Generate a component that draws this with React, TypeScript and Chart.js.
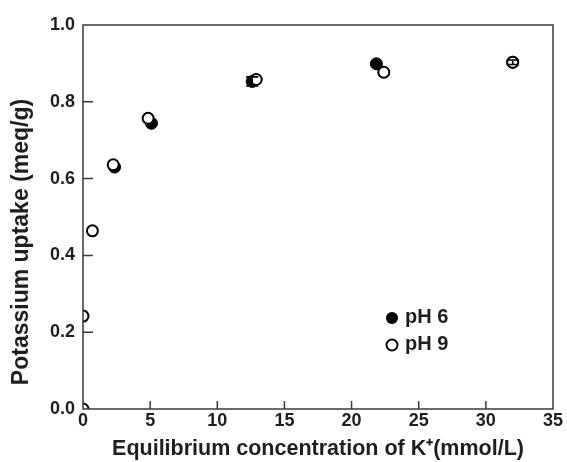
import React, { useEffect, useRef } from "react";
import { Chart, registerables } from "chart.js";

Chart.register(...registerables);

// Axis ticks
const xTickValues = [0, 5, 10, 15, 20, 25, 30, 35];
const yTickValues = [0, 0.2, 0.4, 0.6, 0.8, 1.0];

// Series: pH 6 (filled markers)
const ph6X = [2.35, 5.1, 12.6, 21.85, 32.0];
const ph6Y = [0.63, 0.744, 0.853, 0.899, 0.903];
const ph6Err = [0, 0, 0.012, 0, 0.006];

// Series: pH 9 (open markers)
const ph9X = [0, 0, 0.7, 2.25, 4.85, 12.9, 22.4, 32.0];
const ph9Y = [0, 0.242, 0.464, 0.636, 0.757, 0.858, 0.877, 0.903];

const seriesLabels = ["pH 6", "pH 9"];
const xTitle = "Equilibrium concentration of K\u207A(mmol/L)";
const yTitle = "Potassium uptake (meq/g)";

const FONT = "'Liberation Sans', Arial, sans-serif";
const TEXT = "#1e1e1e";
const AXIS = "#3a3a3a";

// Keep markers strictly inside the plotting frame
const clipToArea = {
  id: "clipToArea",
  beforeDatasetDraw(chart: any) {
    const { ctx, chartArea: a } = chart;
    ctx.save();
    ctx.beginPath();
    ctx.rect(a.left, a.top, a.right - a.left, a.bottom - a.top);
    ctx.clip();
  },
  afterDatasetDraw(chart: any) {
    chart.ctx.restore();
  },
};

const frameAndTicks = {
  id: "frameAndTicks",
  afterDraw(chart: any) {
    const { ctx, chartArea: a, scales } = chart;
    ctx.save();
    ctx.strokeStyle = AXIS;
    ctx.lineWidth = 1.5;
    ctx.strokeRect(a.left, a.top, a.right - a.left, a.bottom - a.top);
    ctx.beginPath();
    xTickValues.forEach((v) => {
      if (v <= 0 || v >= 35) return;
      const px = scales.x.getPixelForValue(v);
      ctx.moveTo(px, a.bottom);
      ctx.lineTo(px, a.bottom - 8);
    });
    yTickValues.forEach((v) => {
      if (v <= 0 || v >= 1) return;
      const py = scales.y.getPixelForValue(v);
      ctx.moveTo(a.left, py);
      ctx.lineTo(a.left + 10, py);
    });
    ctx.stroke();

    // rotated y-axis title
    ctx.fillStyle = TEXT;
    ctx.font = `bold 23px ${FONT}`;
    ctx.textAlign = "center";
    ctx.textBaseline = "middle";
    ctx.translate(22, 242);
    ctx.rotate(-Math.PI / 2);
    ctx.fillText(yTitle, 0, 0);
    ctx.restore();
  },
};

const errorBars = {
  id: "errorBars",
  afterDatasetsDraw(chart: any) {
    const { ctx, scales } = chart;
    ctx.save();
    ctx.strokeStyle = "#000";
    ctx.lineWidth = 1.6;
    ph6X.forEach((x, i) => {
      const e = ph6Err[i];
      if (!e) return;
      const px = scales.x.getPixelForValue(x);
      const yTop = scales.y.getPixelForValue(ph6Y[i] + e);
      const yBot = scales.y.getPixelForValue(ph6Y[i] - e);
      ctx.beginPath();
      ctx.moveTo(px, yTop);
      ctx.lineTo(px, yBot);
      ctx.moveTo(px - 6, yTop);
      ctx.lineTo(px + 6, yTop);
      ctx.moveTo(px - 6, yBot);
      ctx.lineTo(px + 6, yBot);
      ctx.stroke();
    });
    ctx.restore();
  },
};

const legendBox = {
  id: "legendBox",
  afterDraw(chart: any) {
    const { ctx, chartArea: a } = chart;
    const cx = a.left + 309;
    const rows = [a.top + 293, a.top + 320];
    ctx.save();
    ctx.font = `bold 20px ${FONT}`;
    ctx.textBaseline = "middle";
    ctx.textAlign = "left";
    rows.forEach((y, i) => {
      ctx.beginPath();
      ctx.arc(cx, y, i === 0 ? 6 : 5.5, 0, Math.PI * 2);
      if (i === 0) {
        ctx.fillStyle = "#000";
        ctx.fill();
      } else {
        ctx.fillStyle = "#fff";
        ctx.fill();
        ctx.lineWidth = 2;
        ctx.strokeStyle = "#000";
        ctx.stroke();
      }
      ctx.fillStyle = TEXT;
      ctx.fillText(seriesLabels[i], cx + 13, y - 1);
    });
    ctx.restore();
  },
};

export default function App() {
  const canvasRef = useRef<HTMLCanvasElement>(null);

  useEffect(() => {
    const canvas = canvasRef.current;
    if (!canvas) return;
    const chart = new Chart(canvas, {
      type: "scatter",
      data: {
        datasets: [
          {
            label: seriesLabels[0],
            data: ph6X.map((x, i) => ({ x, y: ph6Y[i] })),
            pointRadius: 6,
            pointBackgroundColor: "#000",
            pointBorderColor: "#000",
            pointBorderWidth: 1,
            clip: 0,
            order: 2,
          },
          {
            label: seriesLabels[1],
            data: ph9X.map((x, i) => ({ x, y: ph9Y[i] })),
            pointRadius: 5.5,
            pointBackgroundColor: "#fff",
            pointBorderColor: "#000",
            pointBorderWidth: 2,
            clip: 0,
            order: 1,
          },
        ],
      },
      options: {
        responsive: false,
        animation: false,
        events: [],
        layout: { padding: { left: 0, top: 25, right: 14, bottom: 0 } },
        plugins: {
          legend: { display: false },
          tooltip: { enabled: false },
        },
        scales: {
          x: {
            type: "linear",
            min: 0,
            max: 35,
            afterBuildTicks: (s: any) => {
              s.ticks = xTickValues.map((value) => ({ value }));
            },
            afterFit: (s: any) => {
              s.height = 53;
            },
            grid: { display: false, drawTicks: false, tickLength: 0 },
            border: { display: false },
            ticks: {
              color: TEXT,
              padding: 1,
              maxRotation: 0,
              font: { family: FONT, size: 18, weight: "bold" },
            },
            title: {
              display: true,
              text: xTitle,
              color: TEXT,
              padding: { top: 0, bottom: 0 },
              font: { family: FONT, size: 21.5, weight: "bold" },
            },
          },
          y: {
            type: "linear",
            min: 0,
            max: 1,
            afterBuildTicks: (s: any) => {
              s.ticks = yTickValues.map((value) => ({ value }));
            },
            afterFit: (s: any) => {
              s.width = 83;
            },
            grid: { display: false, drawTicks: false, tickLength: 0 },
            border: { display: false },
            ticks: {
              color: TEXT,
              padding: 8,
              font: { family: FONT, size: 18, weight: "bold" },
              callback: (v: any) => Number(v).toFixed(1),
            },
          },
        },
      },
      plugins: [clipToArea, errorBars, frameAndTicks, legendBox],
    });
    return () => chart.destroy();
  }, []);

  return (
    <div style={{ position: "absolute", left: 0, top: 0, width: 567, height: 462, background: "#fff" }}>
      <canvas ref={canvasRef} width={567} height={462} />
    </div>
  );
}
